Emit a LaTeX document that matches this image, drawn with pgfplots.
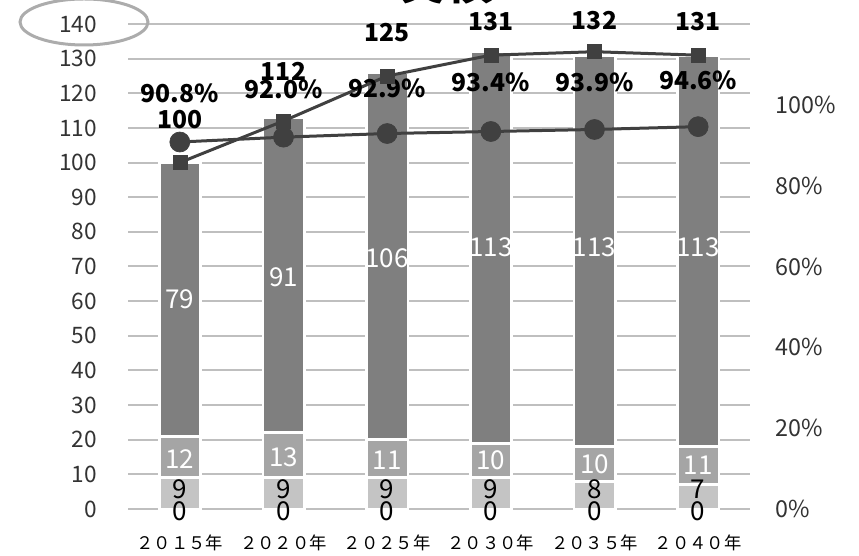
\documentclass[border=0pt]{standalone}
\usepackage{pgfplots}
\pgfplotsset{compat=1.18}
\usepackage{fontspec}
\setmainfont{Noto Sans CJK JP}
\definecolor{dk}{HTML}{7F7F7F}
\definecolor{md}{HTML}{A5A5A5}
\definecolor{lt}{HTML}{C4C4C4}
\definecolor{ln}{HTML}{404040}
\definecolor{gr}{HTML}{BFBFBF}
\definecolor{tx}{HTML}{333333}
\pgfplotsset{
  base/.style={scale only axis, width=466.5pt, height=363.75pt,
    xmin=-0.5, xmax=5.5, at={(0,0)}, anchor=south west, clip=false,
    /pgf/number format/assume math mode=true},
}
\tikzset{
  lab/.style={font=\fontsize{18.5}{18.5}\selectfont\bfseries, text=black, inner sep=0pt},
  inw/.style={font=\fontsize{19.5}{19.5}\selectfont, text=white, inner sep=0pt},
  inb/.style={font=\fontsize{19.5}{19.5}\selectfont, text=black, inner sep=0pt},
}
\begin{document}
\begin{tikzpicture}
\useasboundingbox (-96pt,-35.25pt) rectangle (548.25pt,381.75pt);
% left axis with stacked bars
\begin{axis}[base, ymin=0, ymax=140, ybar stacked, bar width=31pt,
  ytick={0,10,...,140}, xtick={0,...,5},
  xticklabels={２０１５年,２０２０年,２０２５年,２０３０年,２０３５年,２０４０年},
  ymajorgrids, grid style={gr, line width=1.5pt},
  axis line style={draw=none}, major tick length=0pt,
  yticklabel style={anchor=east, inner sep=0pt, xshift=-23pt, text=tx, font=\fontsize{17}{17}\selectfont},
  xticklabel style={anchor=center, inner sep=0pt, yshift=-25.5pt, text=black, font=\fontsize{13}{13}\selectfont},
]
\addplot[fill=lt, draw=white, line width=2pt] coordinates {(0,9)(1,9)(2,9)(3,9)(4,8)(5,7)};
\addplot[fill=md, draw=white, line width=2pt] coordinates {(0,12)(1,13)(2,11)(3,10)(4,10)(5,11)};
\addplot[fill=dk, draw=white, line width=2pt] coordinates {(0,79)(1,91)(2,106)(3,113)(4,113)(5,113)};
\end{axis}
% right axis with percentage line
\begin{axis}[base, ymin=0, ymax=1.2, axis x line=none, axis y line*=right,
  ytick={0,0.2,0.4,0.6,0.8,1}, yticklabels={0\%,20\%,40\%,60\%,80\%,100\%},
  y axis line style={draw=none}, major tick length=0pt,
  yticklabel style={anchor=west, inner sep=0pt, xshift=18.75pt, text=tx, font=\fontsize{17.5}{17.5}\selectfont},
]
\addplot[ln, line width=2.25pt, mark=*, mark size=7.5pt, mark options={solid, fill=ln, line width=0.5pt}]
  coordinates {(0,0.908)(1,0.920)(2,0.929)(3,0.934)(4,0.939)(5,0.946)};
\end{axis}
% totals line on left scale, and all value labels
\begin{axis}[base, ymin=0, ymax=140, hide axis]
\addplot[ln, line width=2.25pt, mark=square*, mark size=5.25pt, mark options={solid, fill=ln, line width=0.5pt}]
  coordinates {(0,100)(1,112)(2,125)(3,131)(4,132)(5,131)};
% segment labels
\node[inb] at (axis cs:0,5.8) {9}; \node[inb] at (axis cs:1,5.8) {9}; \node[inb] at (axis cs:2,5.8) {9};
\node[inb] at (axis cs:3,5.8) {9}; \node[inb] at (axis cs:4,5.8) {8}; \node[inb] at (axis cs:5,5.8) {7};
\node[inb] at (axis cs:0,-0.5) {0}; \node[inb] at (axis cs:1,-0.5) {0}; \node[inb] at (axis cs:2,-0.5) {0};
\node[inb] at (axis cs:3,-0.5) {0}; \node[inb] at (axis cs:4,-0.5) {0}; \node[inb] at (axis cs:5,-0.5) {0};
\node[inw] at (axis cs:0,14.5) {12}; \node[inw] at (axis cs:1,15) {13}; \node[inw] at (axis cs:2,14) {11};
\node[inw] at (axis cs:3,14) {10}; \node[inw] at (axis cs:4,13) {10}; \node[inw] at (axis cs:5,12.5) {11};
\node[inw] at (axis cs:0,60.5) {79}; \node[inw] at (axis cs:1,67) {91}; \node[inw] at (axis cs:2,72.5) {106};
\node[inw] at (axis cs:3,75.5) {113}; \node[inw] at (axis cs:4,75.5) {113}; \node[inw] at (axis cs:5,75.5) {113};
% totals and percentages
\node[lab] at (axis cs:0,112.3) {100};
\node[lab] at (axis cs:1,126.2) {112};
\node[lab] at (axis cs:2,137.4) {125};
\node[lab] at (axis cs:3,140.6) {131};
\node[lab] at (axis cs:4,140.9) {132};
\node[lab] at (axis cs:5,140.6) {131};
\node[lab] at (axis cs:0,120.1) {90.8\%};
\node[lab] at (axis cs:1,121.0) {92.0\%};
\node[lab] at (axis cs:2,121.5) {92.9\%};
\node[lab] at (axis cs:3,123.3) {93.4\%};
\node[lab] at (axis cs:4,123.3) {93.9\%};
\node[lab] at (axis cs:5,123.8) {94.6\%};
\end{axis}
\draw[color=gr!90!black, line width=2.25pt] (-33pt,365.25pt) ellipse [x radius=48pt, y radius=17.25pt];
\node[anchor=base, inner sep=0pt, font=\fontsize{35}{35}\selectfont\bfseries] at (238.5pt,382pt) {実績};
\end{tikzpicture}
\end{document}
